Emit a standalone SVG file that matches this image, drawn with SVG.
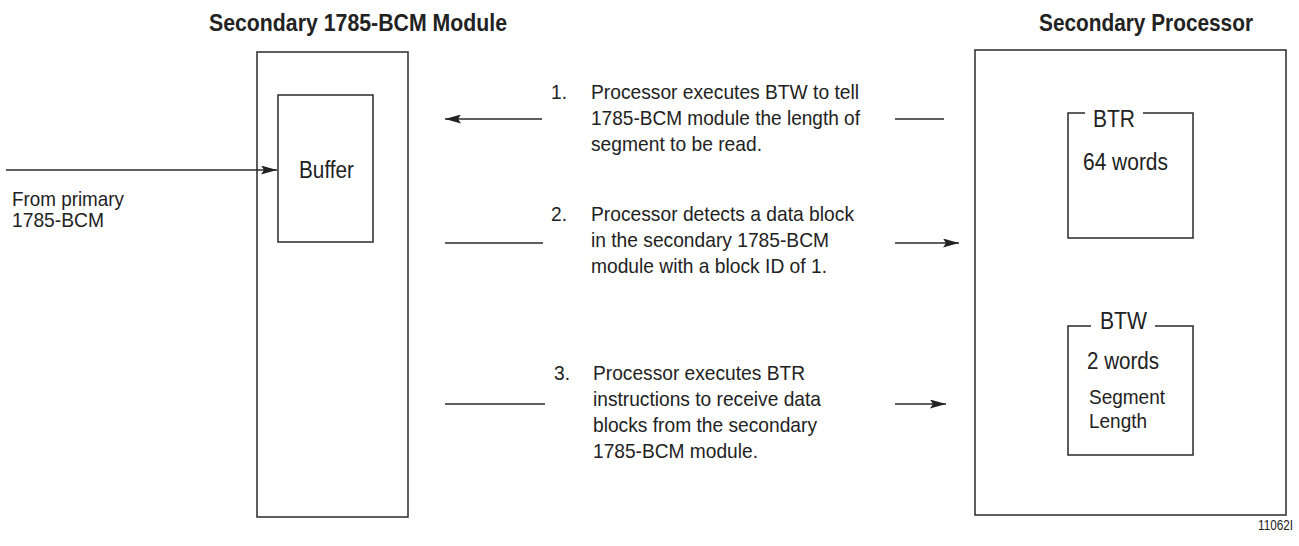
<svg xmlns="http://www.w3.org/2000/svg" width="1299" height="546" viewBox="0 0 1299 546">
<style>
.box{fill:none;stroke:#2a2a2a;stroke-width:1.5}
.ln{fill:none;stroke:#2a2a2a;stroke-width:1.4}
.t{font-family:"Liberation Sans",Arial,sans-serif;font-size:21px;fill:#222}
.lb{font-family:"Liberation Sans",Arial,sans-serif;font-size:23.5px;fill:#222}
.h{font-family:"Liberation Sans",Arial,sans-serif;font-size:23px;font-weight:bold;fill:#222}
.s{font-family:"Liberation Sans",Arial,sans-serif;font-size:14px;fill:#222}
</style>
<defs>
<marker id="ah" markerUnits="userSpaceOnUse" markerWidth="16" markerHeight="9" refX="16" refY="4.5" orient="auto" viewBox="0 0 16 9">
<path d="M0,0 L16,4.5 L0,9 L3,4.5 z" fill="#222"/>
</marker>
</defs>
<rect width="1299" height="546" fill="#fff"/>

<g id="module">
<text class="h" x="209" y="31" textLength="298" lengthAdjust="spacingAndGlyphs">Secondary 1785-BCM Module</text>
<rect class="box" x="257" y="52" width="151" height="465"/>
</g>
<g id="buffer">
<rect class="box" x="278" y="95" width="95" height="147"/>
<text class="lb" x="299" y="178" textLength="55" lengthAdjust="spacingAndGlyphs">Buffer</text>
</g>
<g id="source">
<text class="t" x="12" y="206" textLength="112" lengthAdjust="spacingAndGlyphs">From primary</text>
<text class="t" x="12" y="227" textLength="92" lengthAdjust="spacingAndGlyphs">1785-BCM</text>
</g>

<g id="processor">
<text class="h" x="1039" y="31" textLength="214" lengthAdjust="spacingAndGlyphs">Secondary Processor</text>
<rect class="box" x="975" y="50" width="311" height="465"/>
</g>
<g id="btr">
<path class="box" d="M1085,113 H1068 V238 H1193 V113 H1143"/>
<text class="lb" x="1093" y="127" textLength="42" lengthAdjust="spacingAndGlyphs">BTR</text>
<text class="lb" x="1083" y="170" textLength="85" lengthAdjust="spacingAndGlyphs">64 words</text>
</g>
<g id="btw">
<path class="box" d="M1091,326 H1068 V455 H1193 V326 H1155"/>
<text class="lb" x="1100" y="329" textLength="47" lengthAdjust="spacingAndGlyphs">BTW</text>
<text class="lb" x="1087" y="369" textLength="72" lengthAdjust="spacingAndGlyphs">2 words</text>
<text class="t" x="1089" y="404" textLength="76" lengthAdjust="spacingAndGlyphs">Segment</text>
<text class="t" x="1089" y="428" textLength="58" lengthAdjust="spacingAndGlyphs">Length</text>
</g>

<g id="step1">
<text class="t" x="551" y="99" textLength="16" lengthAdjust="spacingAndGlyphs">1.</text>
<text class="t" x="591" y="99" textLength="268" lengthAdjust="spacingAndGlyphs">Processor executes BTW to tell</text>
<text class="t" x="591" y="125" textLength="269" lengthAdjust="spacingAndGlyphs">1785-BCM module the length of</text>
<text class="t" x="591" y="151" textLength="171" lengthAdjust="spacingAndGlyphs">segment to be read.</text>
</g>
<g id="step2">
<text class="t" x="551" y="221" textLength="16" lengthAdjust="spacingAndGlyphs">2.</text>
<text class="t" x="591" y="221" textLength="263" lengthAdjust="spacingAndGlyphs">Processor detects a data block</text>
<text class="t" x="591" y="247" textLength="238" lengthAdjust="spacingAndGlyphs">in the secondary 1785-BCM</text>
<text class="t" x="591" y="273" textLength="236" lengthAdjust="spacingAndGlyphs">module with a block ID of 1.</text>
</g>
<g id="step3">
<text class="t" x="554" y="380" textLength="16" lengthAdjust="spacingAndGlyphs">3.</text>
<text class="t" x="593" y="380" textLength="212" lengthAdjust="spacingAndGlyphs">Processor executes BTR</text>
<text class="t" x="593" y="406" textLength="228" lengthAdjust="spacingAndGlyphs">instructions to receive data</text>
<text class="t" x="593" y="432" textLength="224" lengthAdjust="spacingAndGlyphs">blocks from the secondary</text>
<text class="t" x="593" y="458" textLength="165" lengthAdjust="spacingAndGlyphs">1785-BCM module.</text>
</g>

<g id="connectors">
<line class="ln" x1="6" y1="170" x2="277" y2="170" marker-end="url(#ah)"/>
<line class="ln" x1="542" y1="119" x2="445" y2="119" marker-end="url(#ah)"/>
<line class="ln" x1="895" y1="119" x2="944" y2="119"/>
<line class="ln" x1="445" y1="243" x2="543" y2="243"/>
<line class="ln" x1="895" y1="243" x2="959" y2="243" marker-end="url(#ah)"/>
<line class="ln" x1="445" y1="404" x2="545" y2="404"/>
<line class="ln" x1="895" y1="404" x2="946" y2="404" marker-end="url(#ah)"/>
</g>

<text class="s" x="1258" y="530" textLength="35" lengthAdjust="spacingAndGlyphs">11062I</text>
</svg>
